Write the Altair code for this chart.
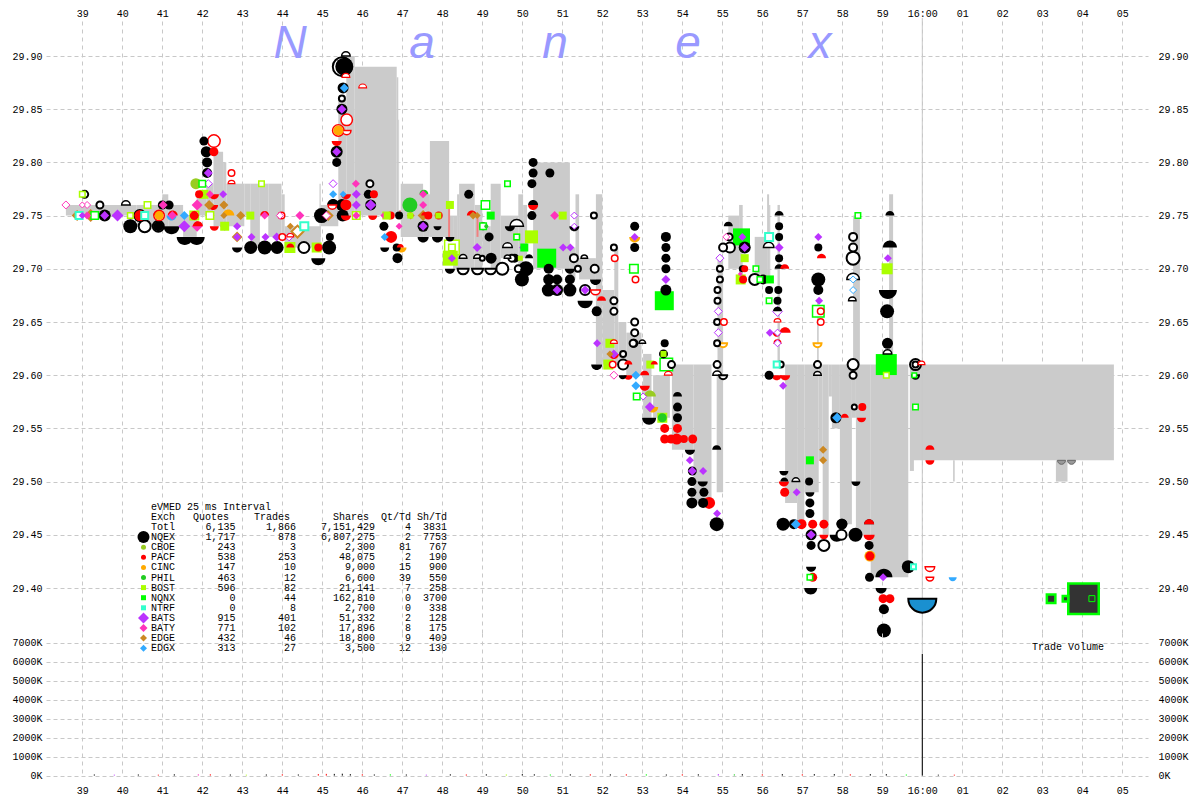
import altair as alt
import pandas as pd

# ---------- geometry of the two panels (page pixels) ----------
PLOT_LEFT, PLOT_RIGHT = 46, 1148
TOP_Y, SPLIT_Y, BOTTOM_Y = 19, 634, 778
def px_to_sec(px): return 39 + (px - 82.3) / 40
def py_to_price(py): return 29.90 - (py - 57) / 1064
def py_to_volk(py): return (776.6 - py) / 19 * 1000

SEC_DOMAIN = [px_to_sec(PLOT_LEFT), px_to_sec(PLOT_RIGHT)]
PRICE_DOMAIN = [py_to_price(SPLIT_Y), py_to_price(TOP_Y)]
VOL_DOMAIN = [py_to_volk(BOTTOM_Y), py_to_volk(SPLIT_Y)]

# ---------- grey NBBO spread blocks: start, end, high, low ----------
SPREAD = [
 (38.59,40.36,29.76,29.75),(40.36,41.0,29.76,29.74),(41.0,41.15,29.77,29.74),(41.15,41.52,29.76,29.74),
 (41.52,41.86,29.75,29.73),(41.86,42.1,29.77,29.75),(42.1,42.28,29.78,29.75),(42.28,42.52,29.81,29.74),
 (42.52,42.6,29.80,29.74),(42.6,43.05,29.78,29.74),(43.05,43.2,29.78,29.75),(43.2,43.44,29.78,29.72),
 (43.44,43.65,29.78,29.75),(43.65,43.98,29.78,29.73),(43.98,44.06,29.77,29.73),(44.06,44.96,29.74,29.72),
 (44.93,44.96,29.78,29.73),(44.96,45.4,29.76,29.74),(45.4,45.6,29.86,29.75),(45.6,45.81,29.90,29.75),
 (45.81,46.86,29.89,29.75),(46.86,46.9,29.88,29.75),(46.9,46.92,29.84,29.75),(46.96,47.52,29.78,29.73),
 (47.52,47.69,29.77,29.73),(47.69,48.17,29.82,29.73),(48.17,48.27,29.75,29.71),(48.27,48.37,29.75,29.70),
 (48.37,48.42,29.77,29.70),(48.42,48.81,29.78,29.70),(48.81,49.0,29.76,29.70),(49.0,49.21,29.74,29.71),
 (49.21,49.46,29.78,29.70),(49.46,49.9,29.75,29.71),(49.9,50.02,29.77,29.70),(50.02,50.12,29.76,29.71),
 (50.27,51.19,29.80,29.70),(51.19,51.33,29.72,29.69),(51.33,51.42,29.77,29.70),(51.42,51.84,29.71,29.69),
 (51.84,52.0,29.77,29.61),(52.0,52.3,29.68,29.61),(52.3,52.4,29.72,29.61),(52.4,52.6,29.65,29.61),
 (52.6,52.98,29.64,29.60),(53.02,53.23,29.62,29.56),(53.27,53.69,29.60,29.56),(53.74,54.28,29.61,29.53),
 (54.28,54.73,29.61,29.48),(54.86,55.02,29.61,29.49),(54.88,55.02,29.71,29.61),(55.15,55.42,29.75,29.70),
 (55.42,55.51,29.76,29.69),(55.81,56.12,29.73,29.69),(56.12,56.17,29.77,29.69),(56.17,56.2,29.76,29.69),
 (56.38,56.44,29.76,29.61),(57.37,57.41,29.67,29.61),(58.27,58.44,29.75,29.61),(59.17,59.27,29.77,29.61),
 (56.57,56.87,29.61,29.48),(56.87,57.05,29.61,29.46),(57.05,57.41,29.61,29.49),(57.41,57.51,29.61,29.52),
 (57.51,57.66,29.61,29.45),(57.66,57.74,29.61,29.58),(57.74,57.94,29.61,29.55),(57.94,58.24,29.61,29.46),
 (58.24,58.34,29.61,29.56),(58.34,58.71,29.61,29.45),(58.71,59.65,29.61,29.41),(59.69,64.79,29.61,29.52),
 (59.69,59.79,29.61,29.51),(60.77,60.81,29.52,29.50),(63.34,63.63,29.52,29.50),
]

# ---------- trade-through rules: second, high, low ----------
THROUGH = [(48.17,29.76,29.72),(48.88,29.75,29.73),(46.94,29.755,29.75)]

# ---------- quotes and trades per exchange: second, price, diameter ----------
NQEX_DOT = [(45.55,29.89,18),(45.49,29.85,11),(45.36,29.81,12),(45.36,29.80,9),(45.52,29.87,11),
 (42.04,29.82,9),(42.1,29.81,11),(42.12,29.80,10),(42.12,29.79,10),(40.2,29.74,14),(40.9,29.74,10),
 (41.0,29.76,9),(41.17,29.76,9),(39.56,29.75,12),(40.44,29.75,13),(43.21,29.72,13),(43.56,29.72,14),(43.87,29.72,13),
 (45.17,29.72,14),(45.19,29.73,8),(44.98,29.75,15),(45.51,29.75,12),(45.49,29.76,12),(46.21,29.76,11),(46.15,29.77,9),(46.92,29.75,8),
 (46.54,29.74,9),(47.52,29.74,11),(46.88,29.71,10),(46.86,29.72,8),(48.66,29.77,9),(49.17,29.73,9),(49.22,29.71,11),(49.81,29.71,9),
 (50.09,29.70,15),(49.99,29.69,14),(50.27,29.80,9),(50.27,29.79,9),(50.69,29.79,9),(50.24,29.78,9),(50.24,29.75,9),
 (50.66,29.70,10),(50.66,29.69,11),(50.87,29.69,10),(51.19,29.69,10),(50.65,29.68,13),(50.87,29.68,12),(51.19,29.68,13),(51.86,29.66,10),
 (52.81,29.74,9),(52.81,29.72,9),(53.59,29.73,10),(53.59,29.72,9),(53.59,29.71,9),(53.59,29.70,9),(53.59,29.68,11),
 (53.56,29.63,8),(53.53,29.62,9),(53.88,29.57,9),(53.88,29.56,9),(54.25,29.51,9),(54.24,29.50,9),(54.24,29.49,9),(54.54,29.49,9),
 (54.24,29.48,11),(54.52,29.48,10),(54.86,29.46,14),(55.56,29.72,12),(55.5,29.70,7),(56.17,29.68,8),(56.02,29.69,10),(56.4,29.68,8),(56.38,29.67,8),
 (56.42,29.74,8),(56.42,29.73,8),(56.42,29.71,8),(56.17,29.60,9),(57.40,29.72,8),(57.40,29.69,14),(57.40,29.68,10),
 (59.12,29.66,14),(59.13,29.63,11),(57.84,29.56,11),(56.52,29.46,13),(56.79,29.46,10),(57.17,29.50,8),(57.19,29.48,9),(57.19,29.47,9),
 (57.22,29.45,11),(57.99,29.46,11),(58.33,29.45,14),(57.22,29.44,9),(58.67,29.44,9),(58.68,29.41,9),(59.65,29.42,13),(59.04,29.38,10),(59.04,29.36,14)]
NQEX_RING = [(45.5,29.89,21),(45.49,29.86,8),(39.06,29.77,9),(39.44,29.76,9),(40.56,29.74,14),(40.9,29.74,13),(44.54,29.72,13),(46.19,29.78,9),
 (49.02,29.74,8),(49.0,29.71,7),(49.5,29.70,14),(49.74,29.71,9),(49.9,29.70,9),(51.29,29.71,10),(51.79,29.75,8),(51.39,29.70,8),(51.81,29.70,10),(51.57,29.68,12),
 (52.29,29.72,8),(52.29,29.66,9),(52.29,29.67,9),(52.81,29.65,9),(52.81,29.64,9),(52.79,29.63,9),(52.77,29.63,9),(52.52,29.61,12),(52.52,29.62,8),
 (53.73,29.61,9),(54.94,29.70,8),(54.94,29.69,8),(54.88,29.68,8),(54.88,29.67,8),(54.87,29.65,8),(54.87,29.63,8),(54.87,29.61,9),
 (55.02,29.72,10),(55.17,29.73,9),(55.19,29.72,12),(55.81,29.69,13),(56.46,29.61,8),(57.38,29.61,9),(58.27,29.73,10),(58.27,29.72,10),(58.27,29.71,15),(58.27,29.61,13),(58.27,29.60,9),
 (58.3,29.57,7),(57.98,29.45,12),(57.54,29.44,13),(59.83,29.61,13),(59.83,29.61,8)]
NQEX_UP = [(45.27,29.76,12),(50.17,29.71,8),(50.27,29.76,10),
 (53.88,29.58,9),(54.86,29.53,9),(55.15,29.74,9),(56.42,29.75,9),(56.42,29.70,9),(56.38,29.66,9),(57.99,29.46,11),(59.19,29.75,9),(59.19,29.72,14),(59.04,29.41,17),(56.55,29.50,8),(58.67,29.46,10)]
NQEX_DN = [(41.23,29.74,16),(41.56,29.73,16),(41.86,29.73,16),(42.87,29.72,10),(44.9,29.71,14),(46.56,29.72,9),(47.52,29.73,11),(47.88,29.73,11),(48.19,29.73,9),(47.88,29.74,8),
 (48.19,29.70,10),(49.69,29.74,10),(50.06,29.70,9),(51.19,29.70,10),(51.57,29.67,15),(51.86,29.61,11),(52.51,29.60,8),(53.17,29.56,14),(54.19,29.53,10),(54.51,29.50,10),
 (56.54,29.51,9),(57.19,29.49,9),(57.22,29.42,10),(57.21,29.40,13),(57.86,29.45,14),(58.34,29.50,9),(59.14,29.68,18),(58.97,29.40,11),(51.3,29.74,10),(51.83,29.69,11)]
NQEX_UP_O = [(45.59,29.90,10),(48.52,29.71,9),(48.88,29.71,9),(49.63,29.72,11),(49.86,29.74,15),(54.87,29.60,10),(56.16,29.72,12),(57.38,29.60,9),(58.25,29.67,9),(58.27,29.69,14),(59.13,29.62,10),(40.09,29.76,10),(49.63,29.71,8),(51.55,29.71,8),(53.0,29.63,8),(56.84,29.50,9)]
NQEX_DN_O = [(48.52,29.70,13),(48.88,29.70,13),(49.21,29.70,13),(55.02,29.60,10),(59.83,29.60,9)]
PACF_DOT = [(42.29,29.81,9),(41.92,29.77,8),(40.44,29.75,11),(41.8,29.75,9),(44.9,29.72,8),(45.59,29.76,11),(46.29,29.77,8),(46.71,29.75,8),(47.65,29.75,8),(47.91,29.75,8),
 (46.72,29.73,12),(53.56,29.55,9),(53.88,29.55,9),(53.56,29.54,9),(53.72,29.54,9),(53.86,29.54,11),(54.04,29.54,8),(54.26,29.54,9),(54.67,29.48,12),
 (55.56,29.70,7),(55.52,29.69,8),(56.56,29.49,9),(56.98,29.46,10),(57.26,29.46,9),(57.54,29.46,9),(58.69,29.43,9),(57.26,29.41,9),(58.5,29.57,8),(59.02,29.39,9),(59.19,29.39,9)]
PACF_UP = [(40.9,29.75,10),(41.26,29.75,10),(41.89,29.74,10),(43.56,29.75,9),(44.2,29.72,8),(46.95,29.72,7),(47.56,29.75,7),(48.74,29.75,10),(51.98,29.67,9),
 (52.65,29.61,8),(53.06,29.60,9),(53.3,29.61,7),(56.57,29.64,11),(56.56,29.70,9),(57.48,29.71,9),(58.06,29.56,8),(60.19,29.53,9),(58.67,29.46,10)]
PACF_DN = [(42.29,29.77,10),(42.27,29.76,10),(42.3,29.74,9),(45.36,29.82,10),(45.59,29.77,10),(45.59,29.75,10),(46.26,29.75,9),(50.27,29.76,10),(52.29,29.62,10),(52.65,29.60,9),(53.06,29.59,10),
 (56.36,29.64,8),(56.36,29.60,10),(56.57,29.60,10),(56.54,29.50,10),(57.54,29.45,9),(58.67,29.45,11),(58.48,29.56,9),(60.19,29.52,9)]
PACF_RING = [(42.29,29.82,14),(45.4,29.83,13),(45.61,29.84,13),(40.92,29.75,12),(42.73,29.79,8),(43.98,29.75,8),(44.0,29.73,8),(52.31,29.71,8),(52.83,29.69,8),(55.04,29.65,8),(57.46,29.66,8),(57.46,29.65,8),(52.26,29.61,8)]
PACF_UP_O = [(42.73,29.78,8),(46.01,29.87,9),(45.59,29.88,9),(44.2,29.73,8),(52.29,29.63,8),(53.65,29.60,9),(56.38,29.65,8),(56.38,29.63,8),(59.98,29.61,8)]
PACF_DN_O = [(45.61,29.83,10),(45.25,29.76,10),(51.83,29.68,11),(60.19,29.42,11),(60.19,29.41,9)]
BATS_D = [(39.0,29.75,7),(39.56,29.75,9),(39.88,29.75,12),(40.2,29.75,7),(41.55,29.74,12),(42.15,29.79,9),(42.52,29.77,8),(42.87,29.74,8),(42.87,29.73,8),(42.56,29.74,9),
 (43.23,29.73,8),(43.58,29.73,8),(43.86,29.73,9),(45.36,29.81,9),(45.49,29.85,9),(45.85,29.77,9),(45.85,29.76,9),(46.21,29.76,11),(47.52,29.74,9),(48.24,29.71,8),(48.87,29.72,9),
 (50.87,29.68,9),(51.57,29.68,9),(51.02,29.72,8),(51.2,29.72,8),(52.81,29.73,8),(51.87,29.63,8),(52.29,29.62,9),(53.59,29.69,9),(53.19,29.57,10),
 (54.19,29.52,8),(54.25,29.51,9),(54.52,29.51,8),(54.87,29.47,8),(55.5,29.73,8),(55.56,29.72,9),(56.42,29.72,9),(56.19,29.64,8),(56.52,29.59,8),(57.40,29.73,8),(57.42,29.67,8),
 (56.86,29.49,8),(57.22,29.45,9),(59.14,29.71,8),(59.02,29.41,8),(50.02,29.72,8)]
BATS_O = [(42.15,29.78,9),(45.27,29.78,9),(44.17,29.73,9),(51.3,29.75,8),(51.3,29.74,7),(53.02,29.58,8),(54.94,29.71,9),(54.9,29.66,9),(54.9,29.64,9),(56.38,29.66,11),(56.38,29.64,8),(56.38,29.63,8)]
BATY_D = [(39.12,29.75,8),(41.02,29.76,9),(41.25,29.75,9),(41.87,29.76,11),(41.87,29.74,11),(42.19,29.77,8),(43.56,29.75,8),(44.44,29.75,9),(45.84,29.78,8),(45.85,29.75,8),(46.54,29.75,7),
 (46.92,29.74,7),(47.52,29.76,8),(47.52,29.77,8),(50.81,29.75,9),(55.45,29.695,5)]
BATY_O = [(38.59,29.76,9),(39.12,29.76,8),(39.0,29.76,7),(43.94,29.75,8),(45.1,29.75,9),(52.29,29.60,9),(55.1,29.73,8)]
EDGE_D = [(38.87,29.75,11),(39.21,29.75,13),(41.8,29.75,10),(42.17,29.76,10),(42.54,29.76,9),(42.19,29.75,9),(42.54,29.75,7),(42.96,29.75,9),(44.2,29.74,7),(47.21,29.75,8),(47.52,29.75,11),
 (48.77,29.75,8),(48.87,29.75,7),(52.19,29.62,7),(57.52,29.53,8),(57.52,29.52,8)]
EDGE_O = [(42.87,29.73,10),(44.38,29.735,14),(45.15,29.75,10)]
EDGX_D = [(45.55,29.87,9),(45.27,29.77,8),(45.52,29.77,7),(41.55,29.75,9),(46.56,29.73,8),(52.84,29.60,9),(52.84,29.59,9),(57.87,29.56,10),(56.84,29.46,10)]
EDGX_O = [(58.27,29.69,8),(58.27,29.68,8)]
EDGX_DN = [(41.23,29.75,10),(60.76,29.41,8)]
BOST_S = [(42.04,29.77,9),(43.2,29.75,8),(42.56,29.74,9),(44.19,29.72,11),(44.86,29.72,10),(48.19,29.76,8),(48.2,29.71,15),(46.62,29.75,7),(47.2,29.75,6),(47.9,29.75,6),(50.23,29.73,13),(49.95,29.71,5),(51.01,29.75,8),(52.19,29.63,9),(52.15,29.61,10),(53.5,29.56,10),(55.56,29.71,8),(55.46,29.69,10),(59.12,29.70,11),(53.53,29.62,6),(53.2,29.61,8)]
BOST_O = [(39.0,29.77,7),(40.63,29.76,8),(40.2,29.75,7),(41.8,29.75,10),(42.19,29.75,9),(43.48,29.78,7),(48.24,29.72,16),(48.24,29.72,8),(49.86,29.73,7),(59.1,29.60,7),(45.85,29.75,9),(46.6,29.75,8)]
NQNX_S = [(49.21,29.75,8),(50.61,29.71,19),(50.05,29.72,8),(53.55,29.67,19),(55.48,29.73,17),(56.19,29.69,8),(57.19,29.52,8),(59.1,29.61,21)]
NQNX_O = [(39.31,29.75,9),(42.0,29.78,8),(49.08,29.76,10),(49.63,29.78,7),(49.02,29.74,8),(49.86,29.73,7),(52.79,29.70,10),(52.86,29.58,8),(53.6,29.61,14),(55.84,29.70,7),(55.94,29.69,7),(56.17,29.67,7),(57.40,29.66,13),(58.39,29.75,7),(59.83,29.57,7),(59.8,29.60,6),(57.19,29.41,7)]
NQNX_DARK = [(64.03,29.39,33),(63.22,29.39,11),(63.58,29.39,8)]
NQNX_DARK_IN = [(64.24,29.39,7)]
NTRF_O = [(38.92,29.75,9),(40.56,29.75,9),(44.55,29.74,10),(56.17,29.73,10),(56.36,29.61,8),(59.78,29.42,7)]
CINC_DOT = [(45.4,29.83,10),(40.92,29.75,9),(58.69,29.43,11)]
CINC_UP = [(42.65,29.75,12)]
CINC_DN = [(46.98,29.72,10),(52.81,29.73,11),(53.26,29.57,11)]
CINC_DN_O = [(55.02,29.63,10),(57.38,29.63,10)]
PHIL_DOT = [(47.19,29.76,15),(53.5,29.56,9),(49.1,29.74,4)]
PHIL_UP = [(47.54,29.77,9)]
CBOE_DOT = [(41.84,29.78,11)]
CBOE_UP = [(53.19,29.58,12)]
GREY_DN = [(63.48,29.52,9),(63.73,29.52,9)]
EDGX_BIG_DN = [(60.0,29.39,30)]

# shape, fill, stroke, stroke width for each group
C_NQEX, C_PACF, C_BATS, C_BATY, C_EDGE, C_EDGX = "#000000", "#ff0000", "#bb33ff", "#ff33bb", "#cc8822", "#33aaff"
C_BOST, C_NQNX, C_NTRF, C_CINC, C_PHIL, C_CBOE = "#aaff00", "#00ff00", "#33ffcc", "#ffaa00", "#22cc22", "#99cc22"
UP = "M-1,0A1,1 0 0 1 1,0Z"
DN = "M-1,0A1,1 0 0 0 1,0Z"
GROUPS = [
 (NQEX_DOT,"circle",C_NQEX,C_NQEX,0),(NQEX_RING,"circle","#ffffff",C_NQEX,2),(NQEX_UP,UP,C_NQEX,C_NQEX,0),(NQEX_DN,DN,C_NQEX,C_NQEX,0),
 (NQEX_UP_O,UP,"#ffffff",C_NQEX,1.5),(NQEX_DN_O,DN,"#ffffff",C_NQEX,2),
 (PACF_DOT,"circle",C_PACF,C_PACF,0),(PACF_UP,UP,C_PACF,C_PACF,0),(PACF_DN,DN,C_PACF,C_PACF,0),(PACF_RING,"circle","#ffffff",C_PACF,1.5),
 (PACF_UP_O,UP,"#ffffff",C_PACF,1.2),(PACF_DN_O,DN,"#ffffff",C_PACF,1.5),
 (BATS_D,"diamond",C_BATS,C_BATS,0),(BATS_O,"diamond","#ffffff",C_BATS,1),(BATY_D,"diamond",C_BATY,C_BATY,0),(BATY_O,"diamond","#ffffff",C_BATY,1),
 (EDGE_D,"diamond",C_EDGE,C_EDGE,0),(EDGE_O,"diamond","#ffffff",C_EDGE,2),(EDGX_D,"diamond",C_EDGX,C_EDGX,0),(EDGX_O,"diamond","#ffffff",C_EDGX,1),(EDGX_DN,DN,C_EDGX,C_EDGX,0),
 (BOST_S,"square",C_BOST,C_BOST,0),(BOST_O,"square","#ffffff",C_BOST,1.5),(NQNX_S,"square",C_NQNX,C_NQNX,0),(NQNX_O,"square","#ffffff",C_NQNX,1.5),
 (NQNX_DARK,"square","#333333",C_NQNX,2.5),(NQNX_DARK_IN,"square","#333333",C_NQNX,1),(NTRF_O,"square","#ffffff",C_NTRF,2),
 (CINC_DOT,"circle",C_CINC,C_CINC,0),(CINC_UP,UP,C_CINC,C_CINC,0),(CINC_DN,DN,C_CINC,C_CINC,0),(CINC_DN_O,DN,"#ffffff",C_CINC,2),
 (PHIL_DOT,"circle",C_PHIL,C_PHIL,0),(PHIL_UP,UP,C_PHIL,C_PHIL,0),(CBOE_DOT,"circle",C_CBOE,C_CBOE,0),(CBOE_UP,UP,C_CBOE,C_CBOE,0),
 (GREY_DN,DN,"#999999","#666666",1),(EDGX_BIG_DN,DN,"#1a90d0",C_NQEX,2),
]

# ---------- summary table ----------
EXCH = ["Totl","NQEX","CBOE","PACF","CINC","PHIL","BOST","NQNX","NTRF","BATS","BATY","EDGE","EDGX"]
QUOTES = ["6,135","1,717","243","538","147","463","596","0","0","915","771","432","313"]
TRADES = ["1,866","878","3","253","10","12","82","44","8","401","102","46","27"]
SHARES = ["7,151,429","6,807,275","2,300","48,075","9,000","6,600","21,141","162,810","2,700","51,332","17,896","18,800","3,500"]
QT_TD = ["4","2","81","2","15","39","7","0","0","2","8","9","12"]
SH_TD = ["3831","7753","767","190","900","550","258","3700","338","128","175","409","130"]
LEGEND_KEYS = [None,("circle",C_NQEX,12),("circle",C_CBOE,5),("circle",C_PACF,5),("circle",C_CINC,5),("circle",C_PHIL,5),
 ("square",C_BOST,5),("square",C_NQNX,5),("square",C_NTRF,5),("diamond",C_BATS,11),("diamond",C_BATY,8),("diamond",C_EDGE,7),("diamond",C_EDGX,7)]

# ---------- volume ----------
VOL_SEC = [39.3,39.8,40.4,40.9,41.3,41.9,42.2,42.7,43.1,43.6,44.0,44.4,44.9,45.1,45.3,45.5,45.7,46.0,46.3,46.7,47.1,47.6,48.2,48.6,49.1,49.6,50.0,50.3,50.7,51.2,51.7,52.2,52.6,53.1,53.6,54.0,54.4,54.9,55.3,55.5,56.0,56.5,57.0,57.3,57.8,58.2,58.7,59.1,59.6,60.4,60.8]
VOL_K = [60,50,60,50,70,70,70,60,50,60,70,60,80,90,90,100,80,70,60,70,60,50,70,60,70,60,80,70,60,70,70,70,70,70,60,70,70,80,70,80,70,80,70,80,80,70,80,80,60,50,50]
VOL_COLOR = ["#000000","#bb33ff","#000000","#ff0000","#000000","#ff33bb","#ff0000","#000000","#aaff00","#000000","#ff0000","#000000","#ff0000","#ff0000","#000000","#000000","#000000","#ff0000","#000000","#00ff00","#000000","#bb33ff","#000000","#ff0000","#000000","#aaff00","#000000","#000000","#00ff00","#000000","#ff0000","#000000","#ff0000","#00ff00","#000000","#ff0000","#000000","#bb33ff","#22cc22","#000000","#ff0000","#000000","#ff0000","#000000","#000000","#ff0000","#000000","#000000","#00ff00","#000000","#ff0000"]
CLOSE_SEC, CLOSE_VOL_K = 60, 6400

LOGO = ["N","a","n","e","x"]
LOGO_PX = [290,422,555,688,820]
TICKS_X = list(range(39, 66))
TICKS_PRICE = [round(29.40 + 0.05 * i, 2) for i in range(11)]
TICKS_VOL = [0,1000,2000,3000,4000,5000,6000,7000]

# ---------- tables ----------
mark_rows = []
for pts, shape, fill, stroke, sw in GROUPS:
    for s, p, d in pts:
        mark_rows.append(dict(x=s, y=p, d=d, size=max(d - sw, 1) ** 2, shape=shape, fill=fill, stroke=stroke, sw=sw))
mark_rows.sort(key=lambda r: -r["d"])
ROW_Y = lambda i: py_to_price(507.8 + 10.1 * i)
for i, key in enumerate(LEGEND_KEYS):
    if key:
        mark_rows.append(dict(x=px_to_sec(143.5), y=ROW_Y(i + 2), d=key[2], size=key[2] ** 2, shape=key[0], fill=key[1], stroke=key[1], sw=0))
marks_df = pd.DataFrame(mark_rows)

text_rows = [dict(x=px_to_sec(151), y=ROW_Y(0), t="eVMED 25 ms Interval", a="left")]
for label, right in [("Exch",None),("Quotes",229),("Trades",290),("Shares",369),("Qt/Td",411),("Sh/Td",447)]:
    if right is None:
        text_rows.append(dict(x=px_to_sec(151), y=ROW_Y(1), t=label, a="left"))
    else:
        text_rows.append(dict(x=px_to_sec(right), y=ROW_Y(1), t=label, a="right"))
for i in range(len(EXCH)):
    y = ROW_Y(i + 2)
    text_rows.append(dict(x=px_to_sec(151), y=y, t=EXCH[i], a="left"))
    for col, right in [(QUOTES,235.5),(TRADES,296),(SHARES,375),(QT_TD,411),(SH_TD,447)]:
        text_rows.append(dict(x=px_to_sec(right), y=y, t=col[i], a="right"))
text_left = pd.DataFrame([r for r in text_rows if r["a"] == "left"])
text_right = pd.DataFrame([r for r in text_rows if r["a"] == "right"])

spread_df = pd.DataFrame(SPREAD, columns=["x", "x2", "y", "y2"])
through_df = pd.DataFrame(THROUGH, columns=["x", "y", "y2"])
logo_df = pd.DataFrame({"x": [px_to_sec(p) for p in LOGO_PX], "y": [py_to_price(59)] * 5, "t": LOGO})
vol_df = pd.DataFrame({"x": VOL_SEC, "y": VOL_K, "y0": [0] * len(VOL_SEC), "c": VOL_COLOR})
close_df = pd.DataFrame({"x": [CLOSE_SEC], "y": [CLOSE_VOL_K], "y0": [0]})
tv_df = pd.DataFrame({"x": [px_to_sec(1068)], "y": [py_to_volk(648)], "t": ["Trade Volume"]})
sess_df = pd.DataFrame({"x": [CLOSE_SEC]})

FONT = "Liberation Mono"
X_LABEL = "datum.value==60 ? '16:00' : (datum.value>60 ? '0'+(datum.value-60) : ''+datum.value)"
GRID = dict(grid=True, gridColor="#c8c8c8", gridDash=[4, 4], gridWidth=1, domain=False, ticks=False,
            labelFont=FONT, labelFontSize=10, labelColor="#000000", title=None)
X_SCALE = alt.Scale(domain=SEC_DOMAIN, nice=False, zero=False)
PW = PLOT_RIGHT - PLOT_LEFT

# ---------- price panel ----------
Y_P = alt.Scale(domain=PRICE_DOMAIN, nice=False, zero=False)
def y_p():
    return alt.Y("y:Q", scale=Y_P, axis=None)

top_x = alt.X("x:Q", scale=X_SCALE,
              axis=alt.Axis(orient="top", values=TICKS_X, labelExpr=X_LABEL, labelPadding=0, labelOverlap=False,
                            labelFlush=False, minExtent=8, maxExtent=8, **GRID))
spread = alt.Chart(spread_df).mark_rect(color="#cbcbcb").encode(
    x=top_x, x2="x2:Q",
    y=alt.Y("y:Q", scale=Y_P, axis=alt.Axis(orient="left", values=TICKS_PRICE, format=".2f", labelPadding=4,
            minExtent=38, maxExtent=38, **{**GRID, "gridDash": [4, 3]})),
    y2="y2:Q")
session = alt.Chart(sess_df).mark_rule(color="#c8c8c8", strokeWidth=1).encode(x=top_x)
through = alt.Chart(through_df).mark_rule(color="#f08080", strokeWidth=2).encode(x=top_x, y=y_p(), y2="y2:Q")
logo = alt.Chart(logo_df).mark_text(font="Liberation Sans", fontSize=46, fontStyle="italic", color="#9999ff",
                                    baseline="alphabetic", align="center").encode(x=top_x, y=y_p(), text="t:N")
points = alt.Chart(marks_df).mark_point(opacity=1, filled=False).encode(
    x=top_x, y=y_p(),
    shape=alt.Shape("shape:N", scale=None),
    fill=alt.Fill("fill:N", scale=None),
    stroke=alt.Stroke("stroke:N", scale=None),
    strokeWidth=alt.StrokeWidth("sw:Q", scale=None),
    size=alt.Size("size:Q", scale=None),
    order=alt.Order("rowid:Q"),
).transform_window(rowid="row_number()")
tab_l = alt.Chart(text_left).mark_text(font=FONT, fontSize=10, align="left", baseline="middle", color="#000000").encode(x=top_x, y=y_p(), text="t:N")
tab_r = alt.Chart(text_right).mark_text(font=FONT, fontSize=10, align="right", baseline="middle", color="#000000").encode(x=top_x, y=y_p(), text="t:N")
right_p = alt.Chart(pd.DataFrame({"y": [29.60]})).mark_rule(opacity=0).encode(
    y=alt.Y("y:Q", scale=Y_P, axis=alt.Axis(orient="right", values=TICKS_PRICE, format=".2f", labelPadding=10,
            **{**GRID, "grid": False})))

panel_a = alt.layer(spread, session, through, logo, points, tab_l, tab_r, right_p).resolve_scale(y="independent").properties(
    width=PW, height=SPLIT_Y - TOP_Y)

# ---------- volume panel ----------
Y_V = alt.Scale(domain=VOL_DOMAIN, nice=False, zero=False)
def y_v():
    return alt.Y("y:Q", scale=Y_V, axis=None)
K_LABEL = "datum.value + 'K'"
bot_x = alt.X("x:Q", scale=X_SCALE,
              axis=alt.Axis(orient="bottom", values=TICKS_X, labelExpr=X_LABEL, labelPadding=8, labelOverlap=False,
                            labelFlush=False, **GRID))
session_b = alt.Chart(sess_df).mark_rule(color="#c8c8c8", strokeWidth=1).encode(x=bot_x)
vol_left = alt.Chart(close_df).mark_rule(color="#000000", strokeWidth=1).encode(
    x=bot_x,
    y=alt.Y("y:Q", scale=Y_V, axis=alt.Axis(orient="left", values=TICKS_VOL, labelExpr=K_LABEL, labelPadding=4,
            minExtent=38, maxExtent=38, **{**GRID, "gridDash": [4, 3]})),
    y2="y0:Q")
vol_ticks = alt.Chart(vol_df).mark_rule(strokeWidth=1).encode(x=bot_x, y=y_v(), y2="y0:Q",
                                                              color=alt.Color("c:N", scale=None))
tv = alt.Chart(tv_df).mark_text(font=FONT, fontSize=10, align="center", baseline="middle", color="#000000").encode(
    x=bot_x, y=y_v(), text="t:N")
right_v = alt.Chart(pd.DataFrame({"y": [0]})).mark_rule(opacity=0).encode(
    y=alt.Y("y:Q", scale=Y_V, axis=alt.Axis(orient="right", values=TICKS_VOL, labelExpr=K_LABEL, labelPadding=10,
            **{**GRID, "grid": False})))
panel_b = alt.layer(session_b, vol_left, vol_ticks, tv, right_v).resolve_scale(y="independent").properties(
    width=PW, height=BOTTOM_Y - SPLIT_Y)

chart = alt.vconcat(panel_a, panel_b, spacing=0, bounds="flush").properties(padding=0, background="#ffffff").configure_view(strokeWidth=0)
chart.save("out.html", embed_options={"renderer": "svg", "actions": False})
